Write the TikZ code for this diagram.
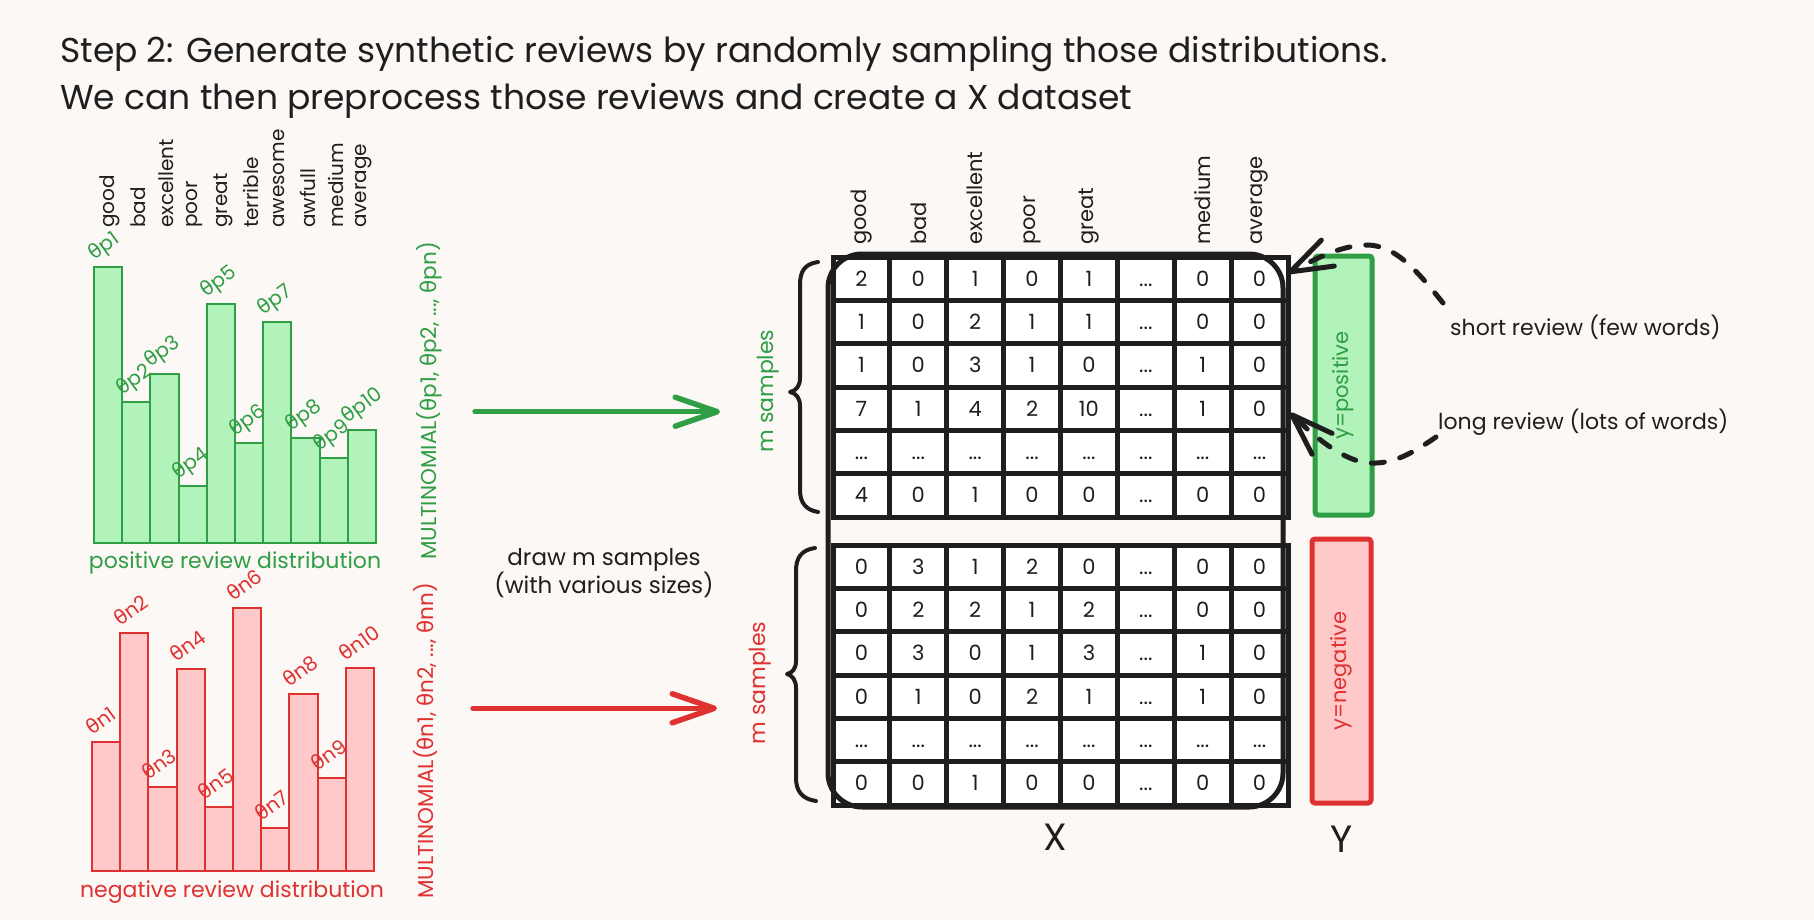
\documentclass[tikz,border=0pt]{standalone}
\usepackage{fontspec}
\setmainfont{Poppins}
\newfontfamily\grk{DejaVu Sans}
\usetikzlibrary{arrows.meta}
\definecolor{bg}{HTML}{FCF8F6}
\definecolor{ink}{HTML}{1E1E1E}
\definecolor{gstroke}{HTML}{2F9E44}
\definecolor{gfill}{HTML}{B2F2BB}
\definecolor{rstroke}{HTML}{E03131}
\definecolor{rfill}{HTML}{FFC9C9}
\newcommand\tht{{\grk θ}}
\newcommand\dd{...}
\newcommand\fsz[1]{\fontsize{#1}{#1}\selectfont}
\begin{document}
\begin{tikzpicture}[x=1pt,y=-1pt,
  title/.style={font=\fsz{34.5}, text=ink, inner sep=0pt, anchor=base west},
  word/.style={font=\fsz{20}, text=ink, inner sep=0pt, rotate=90, anchor=west},
  hword/.style={word, font=\fsz{21}},
  plab/.style={font=\fsz{20}, text=gstroke, inner sep=0pt, rotate=36, anchor=base west},
  nlab/.style={plab, text=rstroke},
  posbar/.style={draw=gstroke, fill=gfill, line width=2pt},
  negbar/.style={draw=rstroke, fill=rfill, line width=2pt},
  caption/.style={font=\fsz{22}, inner sep=0pt},
  multi/.style={font=\fsz{21.5}, inner sep=0pt, rotate=90},
  cell/.style={font=\fsz{21}, text=ink, inner sep=0pt, text height=15pt, text depth=0pt},
  gridline/.style={draw=ink, line width=5pt, line cap=rect},
  frame/.style={draw=ink, line width=5pt, rounded corners=34pt},
  brace/.style={draw=ink, line width=4pt, line cap=round, line join=round},
  bigarrow/.style={line width=5.5pt, line cap=round, -{Straight Barb[length=42pt, width=29pt, round]}},
  dasharrow/.style={draw=ink, line width=5pt, dash pattern=on 13pt off 16pt, line cap=round, -{Straight Barb[length=42pt, width=29pt, round]}},
  ybox/.style={rotate=90, inner sep=0pt, line width=5pt, rounded corners=3pt, font=\fsz{21}},
  bigletter/.style={font=\fsz{38}, text=ink, inner sep=0pt}
]
\useasboundingbox (0,0) rectangle (1814,920);
\fill[bg] (0,0) rectangle (1814,920);

% title
\node[title] (t1) at (60,63) {Step 2: Generate synthetic reviews by randomly sampling those distributions.};
\node[title] (t2) at (60,110) {We can then preprocess those reviews and create a X dataset};

% positive histogram
\foreach \i/\tp in {1/267,2/402,3/374,4/486,5/304,6/443,7/322,8/438,9/458,10/430} {
  \draw[posbar] ({94+(\i-1)*28.2},543) rectangle ({94+\i*28.2},\tp);
  \node[plab] (p\i) at ({94+(\i-1)*28.2},\tp-6) {\tht p\i};
}
\foreach \w [count=\i] in {good,bad,excellent,poor,great,terrible,awesome,awfull,medium,average} {
  \node[word] (pw\i) at ({94+(\i-0.5)*28.2+2},228) {\w};
}
\node[caption, text=gstroke] (pcap) at (235,563) {positive review distribution};
\node[multi, text=gstroke] (pm) at (429,401) {MULTINOMIAL(\tht p1, \tht p2, ..., \tht pn)};

% negative histogram
\foreach \i/\tp in {1/742,2/633,3/787,4/669,5/807,6/608,7/828,8/694,9/778,10/668} {
  \draw[negbar] ({92+(\i-1)*28.2},871) rectangle ({92+\i*28.2},\tp);
  \node[nlab] (n\i) at ({92+(\i-1)*28.2},\tp-6) {\tht n\i};
}
\node[caption, text=rstroke] (ncap) at (232,892) {negative review distribution};
\node[multi, text=rstroke] (nm) at (425,741) {MULTINOMIAL(\tht n1, \tht n2, ..., \tht nn)};

% arrows
\coordinate (gA) at (475,411.7);
\coordinate (gB) at (720,411.7);
\coordinate (rA) at (473,708.3);
\coordinate (rB) at (717,708.3);
\draw[bigarrow, draw=gstroke] (gA) -- (gB);
\draw[bigarrow, draw=rstroke] (rA) -- (rB);
\node[caption, text=ink, align=center, font=\fontsize{23}{27}\selectfont] (draw) at (604,573) {draw m samples\\(with various sizes)};

% m samples
\node[caption, text=gstroke, rotate=90] (ms1) at (768,391) {m samples};
\node[caption, text=rstroke, rotate=90] (ms2) at (760,683) {m samples};

% braces
\draw[brace] (818,262) .. controls (804,264) and (800,272) .. (800,285) -- (800,378) .. controls (800,386) and (796,391) .. (790,392) .. controls (796,393) and (800,398) .. (800,406) -- (800,490) .. controls (800,503) and (806,510) .. (818,512);
\draw[brace] (815,548) .. controls (801,550) and (796,558) .. (796,571) -- (796,661) .. controls (796,669) and (792,673) .. (787,674) .. controls (792,675) and (796,680) .. (796,688) -- (796,778) .. controls (796,791) and (802,799) .. (816,801);

% grids
\fill[white] (833,257) rectangle (1288,517);
\fill[white] (833,545) rectangle (1288,805);
\foreach \i in {0,...,8} {
  \draw[gridline] ({833+\i*56.875},257) -- ({833+\i*56.875},517);
  \draw[gridline] ({833+\i*56.875},545) -- ({833+\i*56.875},805);
}
\foreach \j in {0,...,6} {
  \draw[gridline] (833,{257+\j*43.333}) -- (1288,{257+\j*43.333});
  \draw[gridline] (833,{545+\j*43.333}) -- (1288,{545+\j*43.333});
}
\draw[frame] (828,254) rectangle (1283,807);

\foreach \row [count=\j] in {{2,0,1,0,1,\dd,0,0},{1,0,2,1,1,\dd,0,0},{1,0,3,1,0,\dd,1,0},{7,1,4,2,10,\dd,1,0},{\dd,\dd,\dd,\dd,\dd,\dd,\dd,\dd},{4,0,1,0,0,\dd,0,0}} {
  \foreach \v [count=\i] in \row {
    \node[cell] (u\j-\i) at ({833+(\i-0.5)*56.875},{257+(\j-0.5)*43.333}) {\v};
  }
}
\foreach \row [count=\j] in {{0,3,1,2,0,\dd,0,0},{0,2,2,1,2,\dd,0,0},{0,3,0,1,3,\dd,1,0},{0,1,0,2,1,\dd,1,0},{\dd,\dd,\dd,\dd,\dd,\dd,\dd,\dd},{0,0,1,0,0,\dd,0,0}} {
  \foreach \v [count=\i] in \row {
    \node[cell] (l\j-\i) at ({833+(\i-0.5)*56.875},{545+(\j-0.5)*43.333}) {\v};
  }
}
\foreach \w/\i in {good/1,bad/2,excellent/3,poor/4,great/5,medium/7,average/8} {
  \node[hword] (h\i) at ({833+(\i-0.5)*56.875},245) {\w};
}
\node[bigletter] (X) at (1055,837) {X};
\node[bigletter] (Y) at (1342,839) {Y};

% y boxes
\node[ybox, draw=gstroke, fill=gfill, text=gstroke, minimum width=259pt, minimum height=57pt] (ypos) at (1343.5,385.5) {y=positive};
\node[ybox, draw=rstroke, fill=rfill, text=rstroke, minimum width=264pt, minimum height=59pt] (yneg) at (1341.5,671) {y=negative};

% annotations
\node[caption, text=ink, anchor=west] (sr) at (1450,327) {short review (few words)};
\node[caption, text=ink, anchor=west] (lr) at (1438,422) {long review (lots of words)};
\coordinate (sA) at (1443,303);
\coordinate (tA) at (1288,273);
\coordinate (sB) at (1436,437);
\coordinate (tB) at (1290,413);
\draw[dasharrow] (sA) .. controls (1415,268) and (1395,246) .. (1368,245) .. controls (1340,245) and (1314,260) .. (tA);
\draw[dasharrow] (sB) .. controls (1410,455) and (1392,464) .. (1370,463) .. controls (1345,462) and (1316,438) .. (tB);
\end{tikzpicture}
\end{document}
